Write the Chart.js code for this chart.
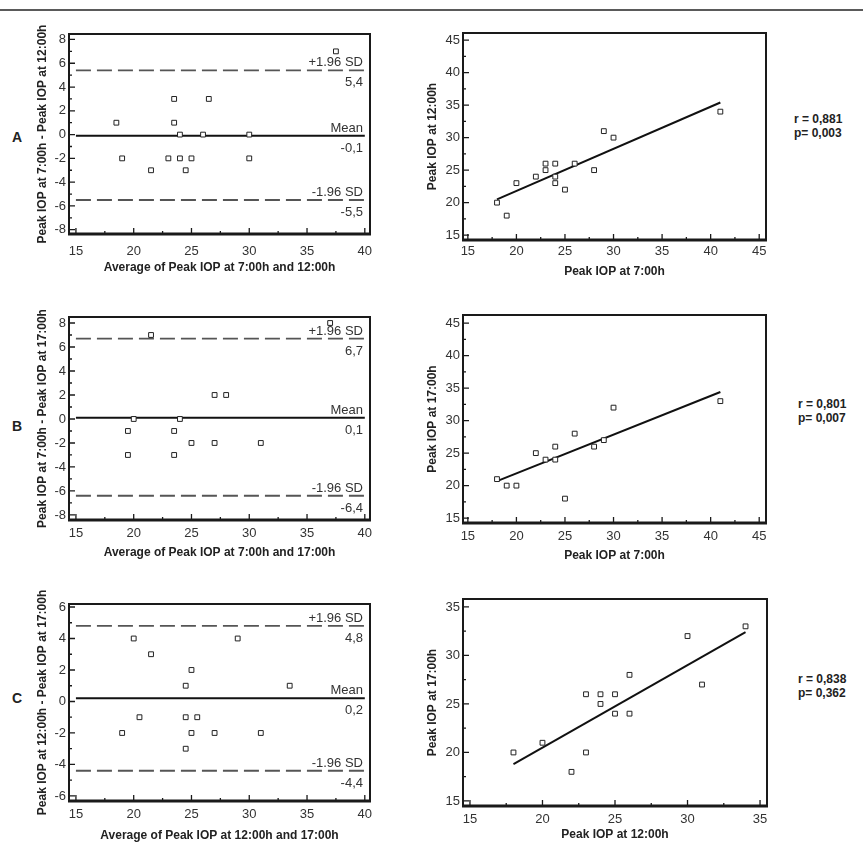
<!DOCTYPE html>
<html>
<head>
<meta charset="utf-8">
<script src="https://cdn.jsdelivr.net/npm/chart.js@4.4.1/dist/chart.umd.min.js"></script>
<style>
  body { margin: 0; background: #fff; font-family: "Liberation Sans", Arial, sans-serif; }
  #page { position: relative; width: 863px; height: 852px; overflow: hidden; background: #fff; }
  #page canvas { position: absolute; }
  .rule { position: absolute; left: 0; top: 9px; width: 863px; height: 2px; background: #5a5a5a; }
  .tag { position: absolute; font-weight: bold; font-size: 14px; line-height: 16px; color: #222; }
  .stat { position: absolute; font-weight: bold; font-size: 12px; line-height: 14px; color: #222; white-space: pre; }
</style>
</head>
<body>
<div id="page">
  <div class="rule"></div>
</div>
<script>
// ---- data ----
// row A: 7:00h vs 12:00h
const baAvgA  = [18.5, 19, 21.5, 23, 23.5, 23.5, 24, 24, 24.5, 25, 26, 26.5, 30, 30, 37.5];
const baDiffA = [1, -2, -3, -2, 3, 1, 0, -2, -3, -2, 0, 3, 0, -2, 7];
const baLimitsA = [5.4, -0.1, -5.5];   // +1.96 SD, mean, -1.96 SD
const iop7A  = [18, 19, 20, 22, 23, 23, 24, 24, 24, 25, 26, 28, 29, 30, 41];
const iop12A = [20, 18, 23, 24, 26, 25, 26, 24, 23, 22, 26, 25, 31, 30, 34];
const fitA = {x: [18, 41], y: [20.5, 35.4]};
const statsA = ['r = 0,881', 'p= 0,003'];

// row B: 7:00h vs 17:00h
const baAvgB  = [19.5, 19.5, 20, 21.5, 23.5, 23.5, 24, 25, 27, 27, 28, 31, 37];
const baDiffB = [-1, -3, 0, 7, -1, -3, 0, -2, 2, -2, 2, -2, 8];
const baLimitsB = [6.7, 0.1, -6.4];
const iop7B  = [18, 19, 20, 22, 23, 24, 24, 25, 26, 28, 29, 30, 41];
const iop17B = [21, 20, 20, 25, 24, 26, 24, 18, 28, 26, 27, 32, 33];
const fitB = {x: [18, 41], y: [20.7, 34.4]};
const statsB = ['r = 0,801', 'p= 0,007'];

// row C: 12:00h vs 17:00h
const baAvgC  = [19, 20, 20.5, 21.5, 24.5, 24.5, 24.5, 25, 25, 25.5, 27, 29, 31, 33.5];
const baDiffC = [-2, 4, -1, 3, 1, -1, -3, 2, -2, -1, -2, 4, -2, 1];
const baLimitsC = [4.8, 0.2, -4.4];
const iop12C = [18, 20, 22, 23, 23, 24, 24, 25, 25, 26, 26, 30, 31, 34];
const iop17C = [20, 21, 18, 26, 20, 26, 25, 26, 24, 28, 24, 32, 27, 33];
const fitC = {x: [18, 34], y: [18.8, 32.4]};
const statsC = ['r = 0,838', 'p= 0,362'];

const limitNames = ['+1.96 SD', 'Mean', '-1.96 SD'];

// ---- drawing ----
const page = document.getElementById('page');
const FONT = '"Liberation Sans", Arial, sans-serif';
const fmt = v => v.toFixed(1).replace('.', ',');
const pts = (xs, ys) => xs.map((v, i) => ({x: v, y: ys[i]}));

// box frame, inward ticks (major + minor) and the limit labels
const framePlugin = {
  id: 'frame',
  afterDatasetsDraw(chart, args, opts) {
    const {ctx, chartArea: a, scales: {x, y}} = chart;
    ctx.save();
    ctx.strokeStyle = '#1a1a1a';
    ctx.lineWidth = 1.3;
    const each = (scale, step, fn) => {
      const half = step / 2;
      for (let v = Math.ceil(scale.min / half) * half; v <= scale.max + 1e-9; v += half) {
        const major = Math.abs(v / step - Math.round(v / step)) < 1e-6;
        fn(scale.getPixelForValue(v), major ? 6 : 3);
      }
    };
    ctx.beginPath();
    each(x, opts.xStep, (px, len) => { ctx.moveTo(px, a.bottom); ctx.lineTo(px, a.bottom - len); });
    each(y, opts.yStep, (py, len) => { ctx.moveTo(a.left, py); ctx.lineTo(a.left + len, py); });
    ctx.stroke();

    ctx.lineWidth = 2;
    ctx.strokeRect(a.left, a.top, a.right - a.left, a.bottom - a.top);
    ctx.lineWidth = 3;
    ctx.beginPath();
    ctx.moveTo(a.left - 1, a.bottom);
    ctx.lineTo(a.right + 1, a.bottom);
    ctx.stroke();

    if (opts.limits) {
      ctx.font = '13px ' + FONT;
      ctx.fillStyle = '#333';
      ctx.textAlign = 'right';
      const xr = a.right - 7;
      opts.limits.forEach((val, i) => {
        const py = y.getPixelForValue(val);
        ctx.textBaseline = 'bottom';
        ctx.fillText(limitNames[i], xr, py - 1);
        ctx.textBaseline = 'top';
        ctx.fillText(fmt(val), xr, py + 6);
      });
    }
    ctx.restore();
  }
};

function stepTicks(step) {
  return s => {
    s.ticks = [];
    for (let v = Math.ceil(s.min / step - 1e-9) * step; v <= s.max + 1e-9; v += step) s.ticks.push({value: v});
  };
}

function makePanel(p) {
  const c = document.createElement('canvas');
  c.width = p.w;
  c.height = p.h;
  c.style.left = p.left + 'px';
  c.style.top = p.top + 'px';
  page.appendChild(c);
  const tickFont = {family: FONT, size: 13};
  const titleFont = {family: FONT, size: 12, weight: 'bold', lineHeight: 1};
  new Chart(c, {
    type: 'scatter',
    data: {datasets: p.datasets},
    options: {
      responsive: false,
      animation: false,
      layout: {padding: {top: p.area.t - p.top, right: p.left + p.w - p.area.r, left: 0, bottom: 0}},
      plugins: {
        legend: {display: false},
        tooltip: {enabled: false},
        frame: {xStep: p.xStep, yStep: p.yStep, limits: p.limits}
      },
      scales: {
        x: {
          min: p.xRange[0], max: p.xRange[1],
          afterBuildTicks: stepTicks(p.xStep),
          afterFit: s => { s.height = p.top + p.h - p.area.b; },
          grid: {display: false, drawTicks: false},
          border: {display: false},
          ticks: {autoSkip: false, maxRotation: 0, padding: p.xTickPad, color: '#333', font: tickFont},
          title: {display: true, text: p.xTitle, color: '#222', font: titleFont,
                  padding: {top: 0, bottom: p.top + p.h - p.xTitleY - 6}}
        },
        y: {
          min: p.yRange[0], max: p.yRange[1],
          afterBuildTicks: stepTicks(p.yStep),
          afterFit: s => { s.width = p.area.l - p.left; },
          grid: {display: false, drawTicks: false},
          border: {display: false},
          ticks: {autoSkip: false, padding: 3, color: '#333', font: tickFont},
          title: {display: true, text: p.yTitle, color: '#222', font: titleFont,
                  padding: {top: p.yTitleX - p.left - 6, bottom: 0}}
        }
      }
    },
    plugins: [framePlugin]
  });
}

const pointStyle = {pointStyle: 'rect', pointRadius: 3.4, borderWidth: 1, borderColor: '#222',
                    backgroundColor: '#fff', showLine: false};

function baDatasets(avg, diff, limits) {
  const from = 15, to = 40;
  return [
    Object.assign({data: pts(avg, diff)}, pointStyle),
    ...limits.map((v, i) => ({
      data: [{x: from, y: v}, {x: to, y: v}], showLine: true, pointRadius: 0,
      borderColor: i === 1 ? '#111' : '#555', borderWidth: i === 1 ? 2 : 1.8,
      borderDash: i === 1 ? [] : [15, 6]
    }))
  ];
}

function xyDatasets(xs, ys, fit) {
  return [
    Object.assign({data: pts(xs, ys)}, pointStyle),
    {data: pts(fit.x, fit.y), showLine: true, pointRadius: 0, borderColor: '#111', borderWidth: 2}
  ];
}

const leftGeo = {left: 30, w: 358, yTitleX: 43, xStep: 5};
const rightGeo = {left: 415, w: 370, yTitleX: 433, xStep: 5, yStep: 5};

makePanel(Object.assign({}, leftGeo, {
  top: 20, h: 262, area: {l: 69, r: 370, t: 34, b: 234}, xTitleY: 268, yStep: 2, xTickPad: 10,
  xRange: [14.4, 40.45], yRange: [-8.36, 8.46],
  xTitle: 'Average of Peak IOP at 7:00h and 12:00h', yTitle: 'Peak IOP at 7:00h - Peak IOP at 12:00h',
  limits: baLimitsA, datasets: baDatasets(baAvgA, baDiffA, baLimitsA)
}));
makePanel(Object.assign({}, rightGeo, {
  top: 20, h: 266, area: {l: 463, r: 766, t: 33, b: 240}, xTitleY: 272, xTickPad: 4,
  xRange: [14.5, 45.7], yRange: [14.25, 46.1],
  xTitle: 'Peak IOP at 7:00h', yTitle: 'Peak IOP at 12:00h',
  datasets: xyDatasets(iop7A, iop12A, fitA)
}));
makePanel(Object.assign({}, leftGeo, {
  top: 300, h: 266, area: {l: 69, r: 370, t: 317, b: 520}, xTitleY: 553, yStep: 2, xTickPad: 6,
  xRange: [14.4, 40.45], yRange: [-8.42, 8.5],
  xTitle: 'Average of Peak IOP at 7:00h and 17:00h', yTitle: 'Peak IOP at 7:00h - Peak IOP at 17:00h',
  limits: baLimitsB, datasets: baDatasets(baAvgB, baDiffB, baLimitsB)
}));
makePanel(Object.assign({}, rightGeo, {
  top: 300, h: 270, area: {l: 463, r: 766, t: 315, b: 523}, xTitleY: 556, xTickPad: 6,
  xRange: [14.5, 45.7], yRange: [14.25, 46.25],
  xTitle: 'Peak IOP at 7:00h', yTitle: 'Peak IOP at 17:00h',
  datasets: xyDatasets(iop7B, iop17B, fitB)
}));
makePanel(Object.assign({}, leftGeo, {
  top: 585, h: 264, area: {l: 69, r: 370, t: 604, b: 801}, xTitleY: 836, yStep: 2, xTickPad: 6,
  xRange: [14.4, 40.45], yRange: [-6.32, 6.19],
  xTitle: 'Average of Peak IOP at 12:00h and 17:00h', yTitle: 'Peak IOP at 12:00h - Peak IOP at 17:00h',
  limits: baLimitsC, datasets: baDatasets(baAvgC, baDiffC, baLimitsC)
}));
makePanel(Object.assign({}, rightGeo, {
  top: 585, h: 264, area: {l: 463, r: 767, t: 599, b: 806}, xTitleY: 835, xTickPad: 6,
  xRange: [14.52, 35.48], yRange: [14.48, 35.82],
  xTitle: 'Peak IOP at 12:00h', yTitle: 'Peak IOP at 17:00h',
  datasets: xyDatasets(iop12C, iop17C, fitC)
}));

// row letters and correlation notes
[['A', 137], ['B', 426], ['C', 698]].forEach(([t, cy]) => {
  const d = document.createElement('div');
  d.className = 'tag';
  d.textContent = t;
  d.style.left = '12px';
  d.style.top = (cy - 8) + 'px';
  page.appendChild(d);
});
[[statsA, 794, 119], [statsB, 798, 404], [statsC, 798, 679]].forEach(([s, x, cy]) => {
  const d = document.createElement('div');
  d.className = 'stat';
  d.textContent = s.join('\n');
  d.style.left = x + 'px';
  d.style.top = (cy - 7) + 'px';
  page.appendChild(d);
});
</script>
</body>
</html>
